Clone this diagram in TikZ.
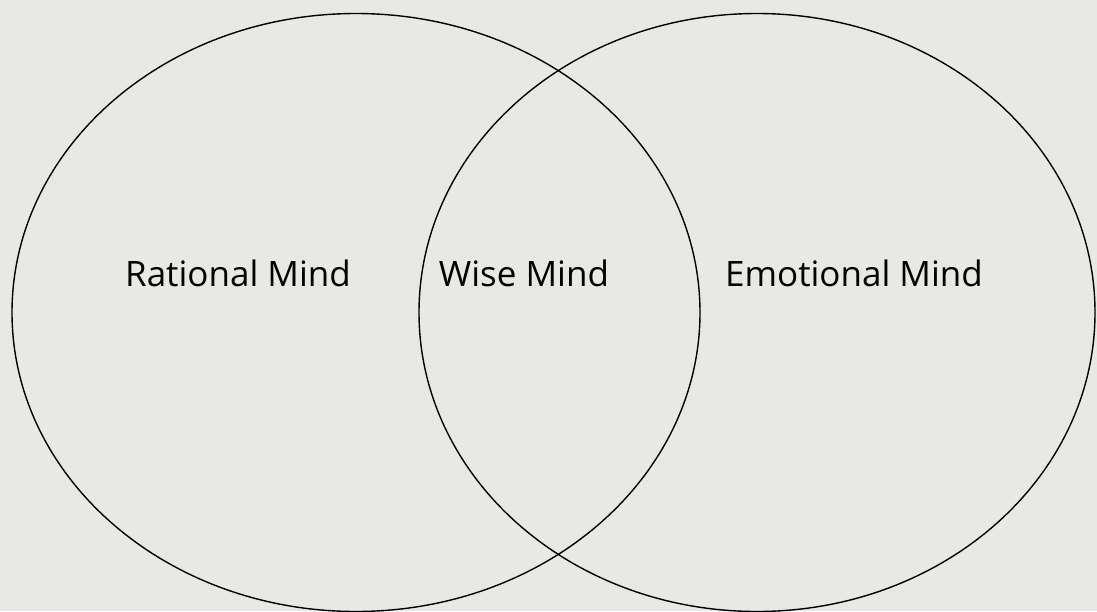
\documentclass[tikz,border=0pt]{standalone}
\usepackage{fontspec}
\setmainfont{Open Sans}
\definecolor{bgmarble}{HTML}{E8E8E5}
\tikzset{
  mindcircle/.style={draw=black, line width=1.4pt},
  mindlabel/.style={font=\fontsize{35}{40}\selectfont, text=black, inner sep=0pt, anchor=base}
}
\begin{document}
\begin{tikzpicture}[x=1pt,y=-1pt]
\fill[bgmarble] (0,0) rectangle (1097,611);
\useasboundingbox (0,0) rectangle (1097,611);
\begin{scope}
\clip (0,0) rectangle (1097,611);
\draw[mindcircle] (356,312.5) ellipse [x radius=344, y radius=299];
\draw[mindcircle] (757,312.5) ellipse [x radius=338, y radius=299];
\end{scope}
\node[mindlabel] (rational) at (238,286) {Rational Mind};
\node[mindlabel] (wise) at (524,286) {Wise Mind};
\node[mindlabel] (emotional) at (854,286) {Emotional Mind};
\end{tikzpicture}
\end{document}
